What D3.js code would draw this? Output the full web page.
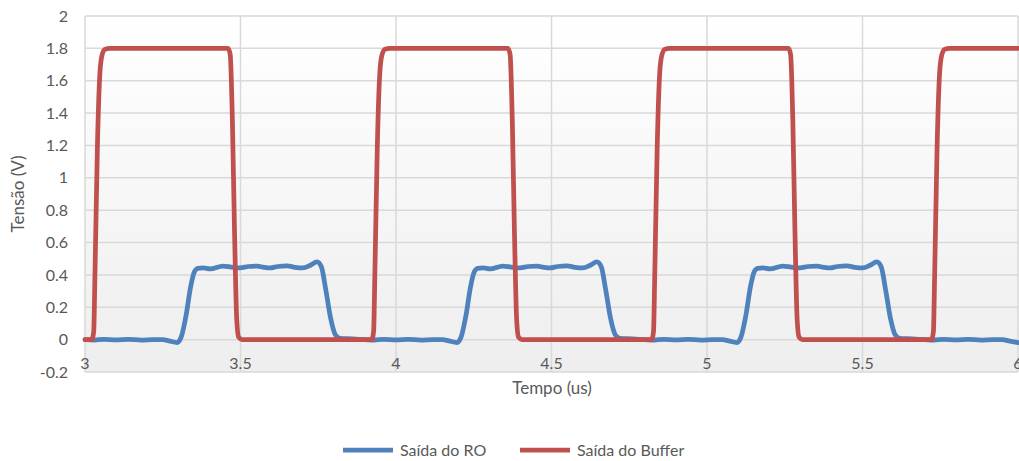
<!DOCTYPE html>
<html>
<head>
<meta charset="utf-8">
<script src="https://cdn.jsdelivr.net/npm/d3@7"></script>
<style>
  html, body { margin: 0; padding: 0; background: #ffffff; }
  svg { display: block; }
  text { font-family: Lato, "Open Sans", sans-serif; fill: #595959; }
</style>
</head>
<body>
<svg id="chart" width="1019" height="461"></svg>
<script>
// ---------- Data ----------
const xTicks = [3, 3.5, 4, 4.5, 5, 5.5, 6];
const xTickLabels = ["3", "3.5", "4", "4.5", "5", "5.5", "6"];
const yTicks = [-0.2, 0, 0.2, 0.4, 0.6, 0.8, 1, 1.2, 1.4, 1.6, 1.8, 2];
const yTickLabels = ["-0.2", "0", "0.2", "0.4", "0.6", "0.8", "1", "1.2", "1.4", "1.6", "1.8", "2"];

const seriesNames = ["Saída do RO", "Saída do Buffer"];
const seriesColors = ["#4f81bd", "#c0504d"];

// Saída do RO (time in us, voltage in V)
const roTime = [
  3.000,3.030,3.060,3.100,3.140,3.180,3.220,3.250,3.270,3.296,
  3.310,3.325,3.340,3.352,3.363,3.380,3.402,3.444,3.470,3.498,
  3.525,3.553,3.575,3.595,3.620,3.650,3.675,3.700,3.725,3.746,
  3.760,3.775,3.790,3.805,3.820,3.860,
  3.900,3.930,3.960,4.000,4.040,4.080,4.120,4.150,4.170,4.196,
  4.210,4.225,4.240,4.252,4.263,4.280,4.302,4.344,4.370,4.398,
  4.425,4.453,4.475,4.495,4.520,4.550,4.575,4.600,4.625,4.646,
  4.660,4.675,4.690,4.705,4.720,4.760,
  4.800,4.830,4.860,4.900,4.940,4.980,5.020,5.050,5.070,5.096,
  5.110,5.125,5.140,5.152,5.163,5.180,5.202,5.244,5.270,5.298,
  5.325,5.353,5.375,5.395,5.420,5.450,5.475,5.500,5.525,5.546,
  5.560,5.575,5.590,5.605,5.620,5.660,
  5.700,5.730,5.760,5.800,5.840,5.880,5.920,5.950,5.970,6.000
];
const roVolt = [
  0.000,-0.003,0.002,-0.002,0.002,-0.003,0.000,0.000,-0.008,-0.018,
  0.020,0.150,0.330,0.420,0.440,0.443,0.437,0.455,0.448,0.443,
  0.452,0.455,0.447,0.443,0.452,0.456,0.447,0.443,0.460,0.480,
  0.450,0.300,0.130,0.030,0.008,0.005,
  0.000,-0.003,0.002,-0.002,0.002,-0.003,0.000,0.000,-0.008,-0.018,
  0.020,0.150,0.330,0.420,0.440,0.443,0.437,0.455,0.448,0.443,
  0.452,0.455,0.447,0.443,0.452,0.456,0.447,0.443,0.460,0.480,
  0.450,0.300,0.130,0.030,0.008,0.005,
  0.000,-0.003,0.002,-0.002,0.002,-0.003,0.000,0.000,-0.008,-0.018,
  0.020,0.150,0.330,0.420,0.440,0.443,0.437,0.455,0.448,0.443,
  0.452,0.455,0.447,0.443,0.452,0.456,0.447,0.443,0.460,0.480,
  0.450,0.300,0.130,0.030,0.008,0.005,
  0.000,-0.003,0.002,-0.002,0.002,-0.003,0.000,0.000,-0.008,-0.018
];

// Saída do Buffer
const bufTime = [
  3.000,3.022,3.028,3.032,3.040,3.048,3.055,3.065,3.080,
  3.460,3.467,3.474,3.481,3.488,3.494,3.505,
  3.922,3.928,3.932,3.940,3.948,3.955,3.965,3.980,
  4.360,4.367,4.374,4.381,4.388,4.394,4.405,
  4.822,4.828,4.832,4.840,4.848,4.855,4.865,4.880,
  5.262,5.269,5.276,5.283,5.290,5.296,5.307,
  5.722,5.728,5.732,5.740,5.748,5.755,5.765,5.780,
  6.000
];
const bufVolt = [
  0.000,0.000,0.050,0.400,1.200,1.650,1.760,1.795,1.800,
  1.800,1.760,1.350,0.650,0.120,0.015,0.000,
  0.000,0.050,0.400,1.200,1.650,1.760,1.795,1.800,
  1.800,1.760,1.350,0.650,0.120,0.015,0.000,
  0.000,0.050,0.400,1.200,1.650,1.760,1.795,1.800,
  1.800,1.760,1.350,0.650,0.120,0.015,0.000,
  0.000,0.050,0.400,1.200,1.650,1.760,1.795,1.800,
  1.800
];

// ---------- Chart ----------
const svg = d3.select("#chart");
const x = d3.scaleLinear().domain([3, 6]).range([85, 1018]);
const y = d3.scaleLinear().domain([-0.2, 2]).range([372, 16]);

const defs = svg.append("defs");
const grad = defs.append("linearGradient").attr("id", "bg")
  .attr("x1", 0).attr("y1", 0).attr("x2", 0).attr("y2", 1);
grad.append("stop").attr("offset", "0%").attr("stop-color", "#ffffff");
grad.append("stop").attr("offset", "100%").attr("stop-color", "#eeeeee");

svg.append("rect")
  .attr("x", x(3)).attr("y", y(2))
  .attr("width", x(6) - x(3)).attr("height", y(-0.2) - y(2))
  .attr("fill", "url(#bg)");

// gridlines
svg.append("g").selectAll("line").data(yTicks).join("line")
  .attr("x1", x(3)).attr("x2", x(6))
  .attr("y1", d => y(d)).attr("y2", d => y(d))
  .attr("stroke", "#d9d9d9").attr("stroke-width", 1.5);
svg.append("g").selectAll("line").data(xTicks).join("line")
  .attr("y1", y(2)).attr("y2", y(-0.2))
  .attr("x1", d => x(d)).attr("x2", d => x(d))
  .attr("stroke", "#d9d9d9").attr("stroke-width", 1.5);

// y tick labels
svg.append("g").selectAll("text").data(yTicks).join("text")
  .attr("x", 68).attr("y", d => y(d))
  .attr("dy", "0.35em")
  .attr("text-anchor", "end")
  .attr("font-size", 16)
  .text((d, i) => yTickLabels[i]);

// x tick labels (axis crosses at 0)
svg.append("g").selectAll("text").data(xTicks).join("text")
  .attr("x", d => x(d)).attr("y", y(0) + 29)
  .attr("text-anchor", "middle")
  .attr("font-size", 16)
  .text((d, i) => xTickLabels[i]);

// axis titles
svg.append("text").attr("x", 552).attr("y", 394)
  .attr("text-anchor", "middle").attr("font-size", 17).text("Tempo (us)");
svg.append("text")
  .attr("transform", "translate(24,194) rotate(-90)")
  .attr("text-anchor", "middle").attr("font-size", 17).text("Tensão (V)");

// lines
const line = d3.line().x(d => x(d[0])).y(d => y(d[1])).curve(d3.curveMonotoneX);
const roData = roTime.map((t, i) => [t, roVolt[i]]);
const bufData = bufTime.map((t, i) => [t, bufVolt[i]]);

svg.append("path").datum(roData)
  .attr("d", line).attr("fill", "none")
  .attr("stroke", seriesColors[0]).attr("stroke-width", 4.75)
  .attr("stroke-linejoin", "round").attr("stroke-linecap", "round");
svg.append("path").datum(bufData)
  .attr("d", line).attr("fill", "none")
  .attr("stroke", seriesColors[1]).attr("stroke-width", 4.75)
  .attr("stroke-linejoin", "round").attr("stroke-linecap", "round");

// legend
const legendX = [343, 520];
const lg = svg.append("g");
seriesNames.forEach((name, i) => {
  lg.append("line")
    .attr("x1", legendX[i]).attr("x2", legendX[i] + 50)
    .attr("y1", 450).attr("y2", 450)
    .attr("stroke", seriesColors[i]).attr("stroke-width", 4.75);
  lg.append("text")
    .attr("x", legendX[i] + 57).attr("y", 450).attr("dy", "0.35em")
    .attr("font-size", 16).text(name);
});
</script>
</body>
</html>
